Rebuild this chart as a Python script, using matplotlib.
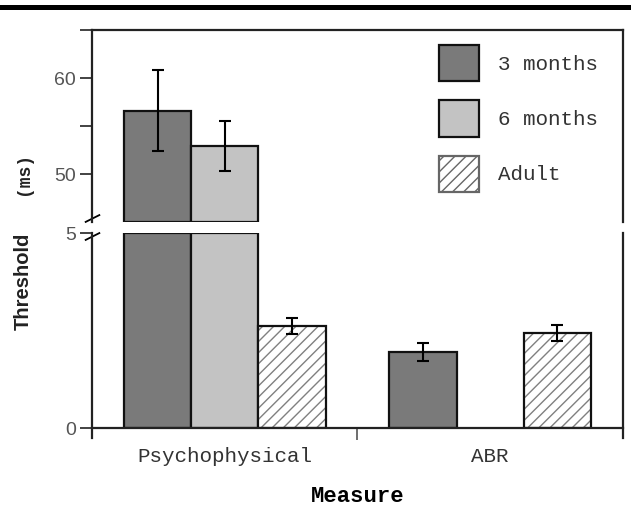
import numpy as np
import matplotlib
matplotlib.use("Agg")
import matplotlib.pyplot as plt
from matplotlib.patches import Patch
from matplotlib.lines import Line2D

# Data
measures = ["Psychophysical", "ABR"]
groups = ["3 months", "6 months", "Adult"]
means_3mo = [56.6, 1.95]
means_6mo = [52.9, np.nan]
means_adult = [2.62, 2.43]
err_3mo = [4.2, 0.22]
err_6mo = [2.6, np.nan]
err_adult = [0.2, 0.2]

dark = "#7a7a7a"
light = "#c3c3c3"
mono = "Liberation Mono"

top_lim = (45, 65)
bot_lim = (0, 5)

fig = plt.figure(figsize=(6.31, 5.23), dpi=100)
ax_top = fig.add_axes([0.1458, 0.5755, 0.8415, 0.3671])
ax_bot = fig.add_axes([0.1458, 0.1816, 0.8415, 0.3728])

x = np.arange(len(measures))
w = 0.253
series = [(means_3mo, err_3mo, dark, None),
          (means_6mo, err_6mo, light, None),
          (means_adult, err_adult, "white", "///")]


def draw_bars(ax, pos, bottom, height, color, hatch):
    if hatch:
        ax.bar(pos, height, w, bottom=bottom, color="white", edgecolor="#808080",
               hatch=hatch, linewidth=0)
        ax.bar(pos, height, w, bottom=bottom, fill=False, edgecolor="#111111",
               linewidth=1.6)
    else:
        ax.bar(pos, height, w, bottom=bottom, color=color, edgecolor="#111111",
               linewidth=1.6)


for i, (m, e, c, h) in enumerate(series):
    pos = x + (i - 1) * w
    m = np.array(m, dtype=float)
    # top panel: only bars that reach above the break, closed at the break
    show = m > top_lim[0]
    if show.any():
        draw_bars(ax_top, pos[show], top_lim[0], m[show] - top_lim[0], c, h)
        ax_top.errorbar(pos[show], m[show], yerr=np.array(e)[show], fmt="none",
                        ecolor="black", elinewidth=1.5, capsize=4.5, capthick=1.5)
    # bottom panel: bars capped at the break
    draw_bars(ax_bot, pos, 0, np.minimum(m, bot_lim[1]), c, h)
    low = m <= bot_lim[1]
    ax_bot.errorbar(pos[low], m[low], yerr=np.array(e)[low], fmt="none",
                    ecolor="black", elinewidth=1.5, capsize=4.5, capthick=1.5)

for ax in (ax_top, ax_bot):
    ax.set_xlim(-0.5, 1.5)
    for s in ax.spines.values():
        s.set_linewidth(1.6)
        s.set_color("#222222")
    ax.tick_params(axis="y", direction="out", length=8.5, width=1.2, pad=3,
                   labelsize=14, labelcolor="#555555", color="#222222")
    ax.tick_params(axis="y", which="minor", direction="out", length=8.5, width=1.2,
                   color="#222222")

# top panel
ax_top.set_ylim(*top_lim)
ax_top.set_yticks([50, 60, 65])
ax_top.set_yticklabels(["50", "60", ""], family="Liberation Sans")
ax_top.set_yticks([55], minor=True)
ax_top.spines["bottom"].set_visible(False)
ax_top.tick_params(axis="x", bottom=False, labelbottom=False)

# bottom panel
ax_bot.set_ylim(*bot_lim)
ax_bot.set_yticks([0, 5])
ax_bot.set_yticklabels(["0", "5"], family="Liberation Sans")
ax_bot.spines["top"].set_visible(False)
ax_bot.spines["left"].set_bounds(-0.25, 5)
ax_bot.spines["right"].set_bounds(-0.25, 5)
ax_bot.set_xticks(x)
ax_bot.set_xticklabels(measures, family=mono, fontsize=15, color="#333333")
ax_bot.set_xticks([0.5], minor=True)
ax_bot.tick_params(axis="x", which="major", length=0, pad=14)
ax_bot.tick_params(axis="x", which="minor", direction="out", length=8.5, width=1.2,
                   color="#555555")
ax_bot.set_xlabel("Measure", family=mono, fontweight="bold", fontsize=16, labelpad=14)

# break marks on the left spine
kw = dict(marker=[(-1, -0.5), (1, 0.5)], markersize=11, linestyle="none",
          color="black", mec="black", mew=1.3, clip_on=False)
ax_top.plot([0], [0.02], transform=ax_top.transAxes, **kw)
ax_bot.plot([0], [0.985], transform=ax_bot.transAxes, **kw)

# y label
fig.text(0.037, 0.462, "Threshold", rotation=90, ha="center", va="center",
         family="Liberation Sans", fontweight="bold", fontsize=14.5, color="#222222")
fig.text(0.037, 0.669, "(ms)", rotation=90, ha="center", va="center",
         family=mono, fontweight="bold", fontsize=13, color="#222222")

# legend
handles = [Patch(facecolor=dark, edgecolor="#111111", linewidth=1.6),
           Patch(facecolor=light, edgecolor="#111111", linewidth=1.6),
           Patch(facecolor="white", edgecolor="#666666", hatch="///", linewidth=1.6)]
leg = fig.legend(handles, groups, loc="upper left", bbox_to_anchor=(0.696, 0.914),
                 frameon=False, borderpad=0, borderaxespad=0,
                 handlelength=1.9, handleheight=2.3, labelspacing=0.92,
                 handletextpad=0.9, prop={"family": mono, "size": 15})
for t in leg.get_texts():
    t.set_color("#333333")

# thick rule at the top of the figure
fig.add_artist(Line2D([0, 1], [0.9857, 0.9857], transform=fig.transFigure,
                      color="black", linewidth=3.6))

fig.savefig("out.png", dpi=100)
